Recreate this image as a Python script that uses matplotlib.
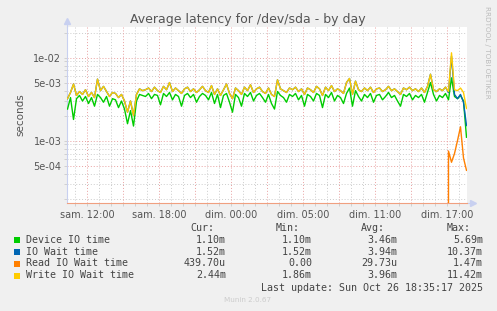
import numpy as np
import matplotlib
matplotlib.use("Agg")
import matplotlib.pyplot as plt
from matplotlib.ticker import FixedLocator, NullFormatter

# ---------------- data (values in milliseconds, 15-minute samples) -------------
# time axis: hours relative to "sam. 12:00"
t_start = -1.625
t_step = 0.25

device_io = [
    2.4, 3.3, 1.8, 3.2, 3.5, 3.0, 3.4, 2.8, 3.3, 2.6,
    3.6, 3.3, 2.9, 3.4, 2.6, 3.2, 3.1, 2.5, 3.0, 2.4,
    1.6, 2.3, 1.5, 3.0, 3.6, 3.5, 3.4, 3.7, 3.2, 3.6,
    3.5, 2.7, 3.7, 3.4, 3.8, 3.1, 3.6, 3.4, 2.6, 3.5,
    3.7, 3.3, 3.6, 2.9, 3.4, 3.7, 3.5, 3.1, 3.8, 2.8,
    3.6, 2.5, 3.5, 3.7, 2.9, 2.2, 3.6, 3.3, 2.6, 3.7,
    3.4, 3.8, 3.0, 3.5, 3.7, 3.3, 2.9, 3.6, 2.8, 2.4,
    3.9, 3.5, 3.3, 2.9, 3.6, 3.4, 3.7, 3.1, 3.5, 2.6,
    3.6, 3.4, 3.0, 3.7, 3.5, 2.5, 3.6, 3.3, 3.8, 3.0,
    3.5, 3.3, 2.8, 3.7, 4.3, 2.6, 4.0, 3.4, 3.0, 3.6,
    3.3, 3.7, 2.9, 3.5, 3.6, 3.1, 3.4, 3.8, 3.3, 3.5,
    3.0, 2.6, 3.6, 3.4, 3.7, 3.1, 3.5, 3.3, 3.6, 2.9,
    3.8, 5.0, 3.6, 3.0, 3.5, 3.3, 3.7, 3.1, 5.7, 3.4,
    3.2, 3.5, 3.0, 1.1,
]

io_wait = [
    3.2, 3.8, 4.8, 3.5, 3.9, 3.6, 4.1, 3.4, 3.8, 3.3,
    5.5, 4.0, 4.5, 3.9, 3.4, 3.8, 3.7, 3.3, 3.6, 3.0,
    2.2, 3.0, 2.0, 3.6, 4.2, 4.0, 4.1, 4.3, 3.9, 4.4,
    4.0, 3.8, 4.5, 4.1, 5.0, 3.9, 4.3, 4.0, 3.7, 4.2,
    4.4, 3.9, 4.2, 3.8, 4.1, 4.5, 4.0, 3.8, 4.6, 3.6,
    4.2, 3.5, 4.1, 4.8, 3.7, 3.2, 4.3, 4.0, 3.6, 4.4,
    4.0, 4.7, 3.8, 4.2, 4.4, 3.9, 3.7, 4.3, 3.6, 3.4,
    5.4, 4.2, 4.0, 3.8, 4.3, 4.1, 4.4, 3.9, 4.2, 3.6,
    4.3, 4.1, 3.8, 4.5, 4.2, 3.5, 4.4, 4.0, 4.6, 3.9,
    4.2, 4.0, 3.7, 5.0, 5.6, 3.6, 5.2, 4.1, 3.9, 4.3,
    4.0, 4.4, 3.8, 4.2, 4.3, 3.9, 4.1, 4.5, 4.0, 4.2,
    3.9, 3.6, 4.3, 4.1, 4.4, 4.0, 4.2, 3.9, 4.3, 3.8,
    4.5, 6.3, 4.1, 3.9, 4.2, 4.0, 4.4, 3.8, 10.4, 3.6,
    3.2, 3.6, 2.9, 1.52,
]

read_io_wait = [0.0] * 127 + [0.75, 0.55, 0.7, 1.0, 1.47, 0.62, 0.44]

write_io_wait = [
    3.2, 3.8, 4.8, 3.5, 3.9, 3.6, 4.1, 3.4, 3.8, 3.3,
    5.5, 4.0, 4.5, 3.9, 3.4, 3.8, 3.7, 3.3, 3.6, 3.0,
    2.2, 3.0, 2.0, 3.6, 4.2, 4.0, 4.1, 4.3, 3.9, 4.4,
    4.0, 3.8, 4.5, 4.1, 5.0, 3.9, 4.3, 4.0, 3.7, 4.2,
    4.4, 3.9, 4.2, 3.8, 4.1, 4.5, 4.0, 3.8, 4.6, 3.6,
    4.2, 3.5, 4.1, 4.8, 3.7, 3.2, 4.3, 4.0, 3.6, 4.4,
    4.0, 4.7, 3.8, 4.2, 4.4, 3.9, 3.7, 4.3, 3.6, 3.4,
    5.4, 4.2, 4.0, 3.8, 4.3, 4.1, 4.4, 3.9, 4.2, 3.6,
    4.3, 4.1, 3.8, 4.5, 4.2, 3.5, 4.4, 4.0, 4.6, 3.9,
    4.2, 4.0, 3.7, 5.0, 5.6, 3.6, 5.2, 4.1, 3.9, 4.3,
    4.0, 4.4, 3.8, 4.2, 4.3, 3.9, 4.1, 4.5, 4.0, 4.2,
    3.9, 3.6, 4.3, 4.1, 4.4, 4.0, 4.2, 3.9, 4.3, 3.8,
    4.5, 6.3, 4.1, 3.9, 4.2, 4.0, 4.4, 3.9, 11.4, 4.1,
    4.0, 4.3, 3.8, 2.44,
]

series_names = ["Device IO time", "IO Wait time", "Read IO Wait time", "Write IO Wait time"]
series_colors = ["#00CC00", "#0066B3", "#FF8000", "#FFCC00"]
cur_vals = ["1.10m", "1.52m", "439.70u", "2.44m"]
min_vals = ["1.10m", "1.52m", "0.00", "1.86m"]
avg_vals = ["3.46m", "3.94m", "29.73u", "3.96m"]
max_vals = ["5.69m", "10.37m", "1.47m", "11.42m"]

xtick_pos = [0, 6, 12, 18, 24, 30]
xtick_labels = ["sam. 12:00", "sam. 18:00", "dim. 00:00", "dim. 05:00", "dim. 11:00", "dim. 17:00"]
ytick_vals = [5e-4, 1e-3, 5e-3, 1e-2]
ytick_labels = ["5e-04", "1e-03", "5e-03", "1e-02"]

title = "Average latency for /dev/sda - by day"
last_update = "Last update: Sun Oct 26 18:35:17 2025"

# ---------------- figure ----------------
W, H = 497, 311
fig = plt.figure(figsize=(W / 100, H / 100), dpi=100, facecolor="#F0F0F0")
L, R, T, B = 67, 467, 27, 203
ax = fig.add_axes([L / W, 1 - B / H, (R - L) / W, (B - T) / H])
ax.set_facecolor("white")

n = len(device_io)
t = t_start + t_step * np.arange(n)

series = [device_io, io_wait, read_io_wait, write_io_wait]
for vals, col in zip(series, series_colors):
    ax.plot(t, np.array(vals) * 1e-3, color=col, lw=1.0, zorder=3)

ax.set_yscale("log", nonpositive="clip")
ax.set_ylim(1.78e-4, 2.33e-2)
ax.set_xlim(-1.667, 31.667)

# grid
minor_x = [h for h in range(-1, 32) if h % 3 != 0]
major_x = [h for h in range(0, 32, 3)]
for h in minor_x:
    ax.axvline(h, color="#cccccc", lw=0.7, ls=(0, (1, 2)), zorder=1)
for h in major_x:
    ax.axvline(h, color="#e8a0a0", lw=0.7, ls=(0, (1, 2)), zorder=1.5)
minor_y = []
for d in [1e-4, 1e-3, 1e-2]:
    for k in range(2, 10):
        v = k * d
        if 1.78e-4 < v < 2.33e-2 and not any(abs(v - y) < 1e-12 for y in ytick_vals):
            minor_y.append(v)
for v in minor_y:
    ax.axhline(v, color="#cccccc", lw=0.7, ls=(0, (1, 2)), zorder=1)
for v in ytick_vals:
    ax.axhline(v, color="#e8a0a0", lw=0.7, ls=(0, (1, 2)), zorder=1.5)

ax.yaxis.set_major_locator(FixedLocator(ytick_vals))
ax.set_yticklabels(ytick_labels)
ax.yaxis.set_minor_locator(FixedLocator(minor_y))
ax.yaxis.set_minor_formatter(NullFormatter())
ax.set_xticks(xtick_pos)
ax.set_xticklabels(xtick_labels)
ax.set_xticks(list(range(-1, 32)), minor=True)

ax.tick_params(axis="both", which="both", labelsize=7, labelcolor="#555555",
               length=2, width=0.6, color="#cccccc", pad=2)
ax.tick_params(axis="x", which="major", pad=3)

for s in ["top", "right"]:
    ax.spines[s].set_visible(False)
ax.spines["left"].set_color("#c8d0f0")
ax.spines["left"].set_linewidth(0.8)
ax.spines["bottom"].set_color("#f0a080")
ax.spines["bottom"].set_linewidth(0.8)

# axis arrows
ax.plot([0, 0], [1.0, 1.03], transform=ax.transAxes, color="#c8d0f0", lw=0.8, clip_on=False)
ax.plot([0], [1.035], marker="^", ms=4, color="#c8d0f0", transform=ax.transAxes, clip_on=False)
ax.plot([1.0, 1.012], [0, 0], transform=ax.transAxes, color="#c8d0f0", lw=0.8, clip_on=False)
ax.plot([1.014], [0], marker=">", ms=4, color="#c8d0f0", transform=ax.transAxes, clip_on=False)

ax.set_ylabel("seconds", fontsize=7.5, color="#555555", labelpad=6)

fig.text(248 / W, 1 - 19 / H, title, ha="center", va="center", fontsize=9, color="#555555")
fig.text(487 / W, 1 - 52 / H, "RRDTOOL / TOBI OETIKER", rotation=270, ha="center", va="center",
         fontsize=5.2, color="#bbbbbb")

mono = dict(family="DejaVu Sans Mono", fontsize=7.2, color="#444444", va="center")
fig.text(190.7 / W, 1 - 228 / H, "Cur:", ha="left", **mono)
fig.text(276 / W, 1 - 228 / H, "Min:", ha="left", **mono)
fig.text(361 / W, 1 - 228 / H, "Avg:", ha="left", **mono)
fig.text(446.7 / W, 1 - 228 / H, "Max:", ha="left", **mono)
row_y = [240, 252, 263.5, 275.5]
for i, name in enumerate(series_names):
    y = 1 - row_y[i] / H
    fig.patches.append(plt.Rectangle((14 / W, y - 3 / H), 6 / W, 6 / H, transform=fig.transFigure,
                                     facecolor=series_colors[i], edgecolor="none"))
    fig.text(26 / W, y, name, ha="left", **mono)
    fig.text(226 / W, y, cur_vals[i], ha="right", **mono)
    fig.text(312 / W, y, min_vals[i], ha="right", **mono)
    fig.text(397 / W, y, avg_vals[i], ha="right", **mono)
    fig.text(483 / W, y, max_vals[i], ha="right", **mono)
fig.text(483 / W, 1 - 288 / H, last_update, ha="right", **mono)
fig.text(248 / W, 1 - 300 / H, "Munin 2.0.67", ha="center", va="center", fontsize=5.2, color="#cccccc")

fig.savefig("out.png", dpi=100, facecolor=fig.get_facecolor())
